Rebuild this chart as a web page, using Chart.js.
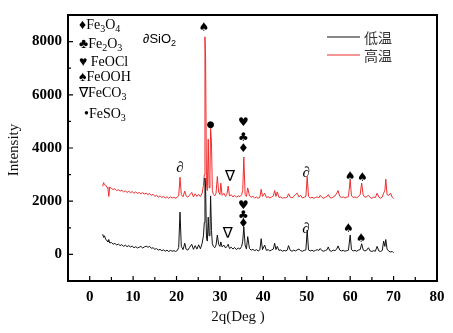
<!DOCTYPE html>
<html>
<head>
<meta charset="utf-8">
<script src="https://cdn.jsdelivr.net/npm/chart.js@4.4.0/dist/chart.umd.min.js"></script>
<style>
  html, body { margin: 0; padding: 0; background: #fff; }
  canvas { display: block; }
</style>
</head>
<body>
<canvas id="xrd" width="453" height="333"></canvas>
<script>
// 2-theta positions shared by both patterns
const angles = [
  3.0,3.2,3.4,3.7,4.0,4.2,4.4,4.6,5.0,5.4,5.8,6.2,6.6,7.0,7.4,7.8,8.2,8.6,9.0,9.4,
  9.8,10.2,10.6,11.0,11.4,11.8,12.2,12.6,13.0,13.4,13.8,14.2,14.6,15.0,15.4,15.8,16.2,16.6,17.0,17.4,
  17.8,18.2,18.6,19.0,19.4,19.8,20.2,
  20.5,20.8,21.1,21.5,21.9,22.2,22.6,23.0,23.5,23.9,24.3,24.7,25.1,25.5,25.9,26.2,
  26.4,26.55,26.7,26.9,27.1,27.3,27.5,27.7,27.85,28.05,28.25,28.5,
  28.8,29.1,29.4,29.7,30.0,30.2,30.5,30.9,31.3,31.6,31.9,32.2,32.6,33.0,33.4,33.8,34.2,34.6,35.0,35.25,
  35.5,35.8,36.1,36.4,36.8,37.2,37.6,38.0,38.4,38.8,39.2,39.5,39.8,40.3,40.7,41.1,41.5,41.9,42.3,42.6,
  42.9,43.2,43.6,44.0,44.4,44.8,45.2,45.5,45.8,46.2,46.6,47.0,47.4,47.8,48.2,48.6,49.0,49.4,49.8,
  50.1,50.4,50.8,51.2,51.6,52.0,52.4,52.8,53.1,53.5,53.9,54.3,54.7,54.95,55.3,55.7,56.1,56.5,56.9,57.2,
  57.6,58.0,58.4,58.8,59.2,59.6,60.0,60.3,60.7,61.1,61.5,61.9,62.3,62.65,63.0,63.4,63.8,64.2,64.6,65.0,
  65.4,65.8,66.2,66.6,67.0,67.4,67.7,68.0,68.2,68.5,68.9,69.3,69.7,70.0
];

// 低温 intensities
const lowTemp = [
  760,640,700,560,520,470,560,430,450,380,420,350,390,330,370,300,350,290,330,280,
  310,250,290,240,270,300,240,280,310,270,300,230,250,190,220,160,190,140,170,120,
  160,110,150,120,140,110,150,
  260,1590,300,180,420,200,160,260,380,190,330,200,360,210,420,700,
  1200,2870,2500,600,500,1400,700,900,2200,900,400,300,
  250,350,730,380,300,470,280,350,240,300,380,220,270,200,260,180,240,200,300,500,
  1040,350,200,670,220,160,190,140,180,130,170,590,180,350,150,180,130,170,200,420,
  180,300,150,170,120,150,130,160,330,150,120,160,130,170,200,140,120,150,170,
  920,170,130,160,120,150,180,150,220,140,120,150,180,280,140,120,160,140,200,320,
  160,130,150,120,140,160,730,180,130,150,120,160,180,400,170,130,160,250,130,110,
  140,120,300,130,110,150,500,300,560,200,120,90,110,60
];

// 高温 intensities
const highTemp = [
  2560,2700,2620,2600,2520,2480,2180,2530,2480,2440,2470,2400,2430,2380,2410,2350,2390,2330,2370,2320,
  2360,2300,2350,2290,2330,2280,2320,2270,2300,2250,2290,2220,2260,2180,2230,2150,2200,2140,2180,2120,
  2170,2110,2160,2120,2150,2110,2160,
  2200,2900,2250,2170,2380,2200,2150,2230,2330,2160,2280,2180,2260,2170,2300,2600,
  3000,8180,7330,2600,2400,4330,2500,3000,4770,4200,2400,2250,
  2200,2300,2930,2350,2250,2680,2220,2300,2180,2260,2570,2200,2240,2160,2220,2150,2200,2170,2250,2400,
  3660,2250,2180,2500,2200,2150,2180,2120,2160,2110,2150,2450,2180,2300,2140,2170,2120,2160,2200,2400,
  2180,2350,2140,2160,2110,2140,2120,2150,2280,2150,2120,2180,2250,2300,2160,2220,2120,2150,2180,
  2930,2180,2120,2150,2110,2140,2160,2130,2220,2140,2110,2150,2180,2250,2140,2120,2160,2200,2300,2400,
  2180,2140,2160,2120,2150,2170,2800,2200,2140,2160,2130,2170,2250,2680,2230,2150,2170,2220,2140,2110,
  2150,2140,2300,2150,2110,2160,2300,2400,2830,2250,2220,2300,2140,2100
];

const seriesNames = ['低温', '高温'];
const seriesColors = ['#111111', '#ee2e2e'];

const xTickValues = [0, 10, 20, 30, 40, 50, 60, 70, 80];
const yTickValues = [0, 2000, 4000, 6000, 8000];

// phase markers above peaks (angle, intensity level, glyph)
const markerAngles = [26.3, 27.85, 35.4, 35.4, 35.4, 20.8, 32.3, 49.9, 60.0, 62.8,
                      35.4, 35.4, 35.4, 31.8, 49.8, 59.6, 62.5];
const markerLevels = [8500, 4880, 4940, 4395, 3965, 3230, 2910, 3050, 2905, 2870,
                      1830, 1465, 1160, 780, 950, 950, 590];
const markerGlyphs = ['♠', '●', '♥', '♣', '♦', '∂', '∇', '∂', '♠', '♠',
                      '♥', '♣', '♦', '∇', '∂', '♠', '♠'];

// phase key, "_n" marks a subscript digit
const phaseLabels = ['♦Fe_3O_4', '♣Fe_2O_3', '♥ FeOCl', '♠FeOOH', '∇FeCO_3', '•FeSO_3'];
const silicaLabel = '∂SiO_2';

const serif = '"Liberation Serif", "Times New Roman", serif';
const sans = '"Liberation Sans", Arial, sans-serif';

function drawRich(ctx, text, x, y, size, family) {
  let cx = x;
  for (let i = 0; i < text.length; i++) {
    let ch = text[i];
    let sub = false;
    if (ch === '_') { sub = true; ch = text[++i]; }
    ctx.font = (sub ? Math.round(size * 0.72) : size) + 'px ' + family;
    ctx.fillText(ch, cx, sub ? y + size * 0.32 : y);
    cx += ctx.measureText(ch).width;
  }
}

const decorations = {
  id: 'decorations',
  afterDatasetsDraw(chart) {
    const { ctx, chartArea: a, scales: { x, y } } = chart;
    ctx.save();

    // frame
    ctx.strokeStyle = '#000';
    ctx.lineWidth = 2;
    ctx.strokeRect(a.left, a.top, a.right - a.left, a.bottom - a.top);

    // inward ticks
    ctx.lineWidth = 1.2;
    ctx.beginPath();
    for (let v = 0; v < 80; v += 5) {
      const px = x.getPixelForValue(v);
      ctx.moveTo(px, a.bottom);
      ctx.lineTo(px, a.bottom - (v % 10 === 0 ? 5 : 4));
    }
    for (let v = 0; v < 9000; v += 1000) {
      const py = y.getPixelForValue(v);
      ctx.moveTo(a.left, py);
      ctx.lineTo(a.left + (v % 2000 === 0 ? 5 : 3), py);
    }
    ctx.stroke();

    // peak markers
    ctx.fillStyle = '#000';
    ctx.textAlign = 'center';
    ctx.textBaseline = 'middle';
    markerGlyphs.forEach((g, i) => {
      const px = x.getPixelForValue(markerAngles[i]);
      const py = y.getPixelForValue(markerLevels[i]);
      if (g === '∂') ctx.font = 'italic 15px ' + serif;
      else if (g === '∇') ctx.font = '15px "DejaVu Sans"';
      else if (g === '●') ctx.font = '9px "DejaVu Sans"';
      else ctx.font = '12px "DejaVu Sans"';
      ctx.fillText(g, px, py);
    });

    // phase key
    ctx.textAlign = 'left';
    const keyY = [25, 44, 62, 77, 93, 114];
    phaseLabels.forEach((t, i) => {
      drawRich(ctx, t, a.left + (i === 5 ? 16 : 11), keyY[i], 14, serif);
    });
    drawRich(ctx, silicaLabel, a.left + 75, a.top + 24, 13, sans);

    // series legend
    ctx.font = '14px "Noto Sans CJK SC"';
    chart.data.datasets.forEach((ds, i) => {
      const ly = a.top + 22 + i * 18;
      ctx.strokeStyle = ds.borderColor;
      ctx.lineWidth = 1.2;
      ctx.beginPath();
      ctx.moveTo(a.right - 110, ly);
      ctx.lineTo(a.right - 77, ly);
      ctx.stroke();
      ctx.fillStyle = '#333';
      ctx.fillText(ds.label, a.right - 73, ly + 1);
    });

    // axis titles
    ctx.fillStyle = '#111';
    ctx.font = '15px ' + serif;
    ctx.textAlign = 'center';
    ctx.fillText('2q(Deg )', 238, 317);
    ctx.translate(14, 150);
    ctx.rotate(-Math.PI / 2);
    ctx.fillText('Intensity', 0, 0);
    ctx.restore();
  }
};

const datasets = [lowTemp, highTemp].map((vals, s) => ({
  label: seriesNames[s],
  data: angles.map((a, i) => ({ x: a, y: vals[i] })),
  borderColor: seriesColors[s],
  borderWidth: 1,
  pointRadius: 0,
  tension: 0
}));
// draw the 低温 curve on top
datasets[0].order = 0;
datasets[1].order = 1;

new Chart(document.getElementById('xrd'), {
  type: 'line',
  data: { datasets },
  options: {
    responsive: false,
    animation: false,
    devicePixelRatio: 1,
    layout: { padding: { top: 8, right: 16, left: 0, bottom: 0 } },
    plugins: { legend: { display: false }, tooltip: { enabled: false } },
    scales: {
      x: {
        type: 'linear',
        min: -5,
        max: 80,
        grid: { display: false, drawTicks: false },
        border: { display: false },
        afterBuildTicks: s => { s.ticks = xTickValues.map(v => ({ value: v })); },
        afterFit: s => { s.height = 52; },
        ticks: { color: '#000', padding: 7, maxRotation: 0, callback: v => String(v), font: { family: serif, size: 15, weight: 'bold' } }
      },
      y: {
        min: -1000,
        max: 9000,
        grid: { display: false, drawTicks: false },
        border: { display: false },
        afterBuildTicks: s => { s.ticks = yTickValues.map(v => ({ value: v })); },
        afterFit: s => { s.width = 68; },
        ticks: { color: '#000', padding: 6, callback: v => String(v), font: { family: serif, size: 15, weight: 'bold' } }
      }
    }
  },
  plugins: [decorations]
});
</script>
</body>
</html>
